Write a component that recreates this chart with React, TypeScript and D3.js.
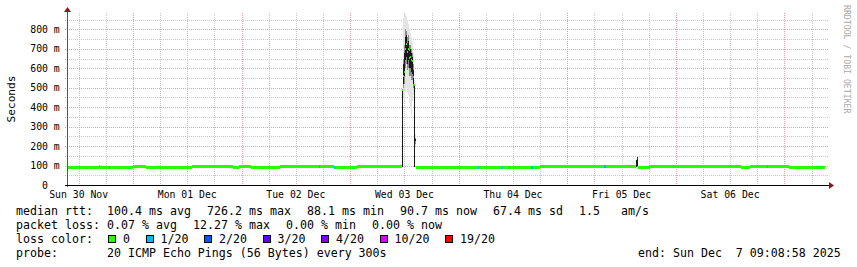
import React from 'react';
import * as d3 from 'd3';

const W = 857;
const H = 267;

const rangeStart = '2025-11-30T09:25';
const rangeEnd = '2025-12-07T09:25';

// median rtt segments (ms); null = no median drawn
const segStart = [
  '2025-11-30T09:25', '2025-11-30T16:30', '2025-11-30T16:45', '2025-12-01T00:00',
  '2025-12-01T02:52', '2025-12-01T13:01', '2025-12-01T22:05', '2025-12-01T23:24',
  '2025-12-02T02:03', '2025-12-02T08:27', '2025-12-02T20:23', '2025-12-03T01:27',
  '2025-12-03T11:23', '2025-12-03T14:29', '2025-12-03T15:35', '2025-12-04T17:52',
  '2025-12-05T15:17', '2025-12-05T15:43', '2025-12-05T18:22', '2025-12-06T14:28',
  '2025-12-06T16:27', '2025-12-07T01:04', '2025-12-07T09:00',
];
const segMedian = [
  89, 94, 89, 94,
  89, 94, 89, 94,
  89, 94, 89, 93,
  null, 92, 88, 94,
  null, 89, 94, 89,
  94, 89, null,
];

// single samples with 1/20 loss along the median
const lossEventTime = [
  '2025-11-30T18:42', '2025-12-02T17:11', '2025-12-02T20:23', '2025-12-04T04:10',
  '2025-12-04T09:28', '2025-12-04T11:01', '2025-12-04T16:05', '2025-12-05T08:13',
  '2025-12-06T20:12',
];
const lossEventCount = [1, 1, 1, 1, 1, 1, 1, 1, 1];

// detailed samples around the two spikes (ms)
const sampleTime = [
  '2025-12-03T11:23', '2025-12-03T11:36', '2025-12-03T11:50', '2025-12-03T12:03',
  '2025-12-03T12:16', '2025-12-03T12:29', '2025-12-03T12:43', '2025-12-03T12:56',
  '2025-12-03T13:09', '2025-12-03T13:23', '2025-12-03T13:36', '2025-12-03T13:49',
  '2025-12-03T14:03', '2025-12-03T14:16', '2025-12-05T15:17', '2025-12-05T15:30',
];
const sampleMedian = [490, 560, 583, 700, 726, 685, 700, 652, 660, 640, 637, 555, 514, 223, null, 140];
const sampleLo = [90, 450, 430, 480, 500, 480, 460, 420, 400, 360, 430, 460, 90, 200, 90, 92];
const sampleQ1 = [90, 500, 520, 600, 620, 590, 600, 560, 560, 540, 540, 500, 90, 210, 92, 95];
const sampleCoreLo = [90, 520, 560, 640, 660, 620, 640, 600, 600, 580, 570, 520, 90, 215, 92, 100];
const sampleCoreHi = [490, 620, 680, 760, 770, 730, 740, 690, 700, 680, 660, 590, 514, 235, 130, 140];
const sampleQ3 = [490, 650, 720, 800, 790, 760, 770, 720, 720, 700, 680, 620, 514, 240, 130, 140];
const sampleHi = [495, 860, 880, 878, 870, 850, 830, 800, 780, 760, 730, 680, 540, 260, 133, 145];
const sampleLoss = [0, 0, 0, 0, 0, 0, 0, 0, 0, 0, 0, 0, 0, 0, 0, 3];

const yMax = 884;
const yMajorTicks = [0, 100, 200, 300, 400, 500, 600, 700, 800];
const yMinorTicks = [50, 150, 250, 350, 450, 550, 650, 750, 850];

const lossThresholds = [0, 1, 2, 3, 4, 10, 19];
const lossLabels = ['0', '1/20', '2/20', '3/20', '4/20', '10/20', '19/20'];
const lossColors = ['#26ff00', '#00b8ff', '#0059ff', '#5e00ff', '#7e00ff', '#dd00ff', '#ff0000'];

const rttLabel = 'median rtt:';
const rttItems = ['100.4 ms avg', '726.2 ms max', '88.1 ms min', '90.7 ms now', '67.4 ms sd', '1.5', 'am/s'];
const lossLabel = 'packet loss:';
const lossItems = ['0.07 % avg', '12.27 % max', '0.00 % min', '0.00 % now'];
const lossColorLabel = 'loss color:';
const probeLabel = 'probe:';
const probeText = '20 ICMP Echo Pings (56 Bytes) every 300s';
const endText = 'end: Sun Dec  7 09:08:58 2025';
const yTitle = 'Seconds';
const watermark = 'RRDTOOL / TOBI OETIKER';

const parse = (s: string) => new Date(s);
const lossColor = (n: number) => {
  let c = lossColors[0];
  lossThresholds.forEach((t, i) => { if (n >= t) c = lossColors[i]; });
  return c;
};

export default function App() {
  const X0 = 67, X1 = 827, Y0 = 185, Y1 = 13;
  const x = d3.scaleTime().domain([parse(rangeStart), parse(rangeEnd)]).range([X0, X1]);
  const y = d3.scaleLinear().domain([0, yMax]).range([Y0, Y1]);
  const mono = 'DejaVu Sans Mono';
  const CW = 7.0;
  const FS = CW / 0.602;
  const sampleMs = 13.25 * 60 * 1000;
  const bandH = 3;

  const dayLines = d3.timeDay.range(x.domain()[0], x.domain()[1]);
  const sixHours = d3.timeHour.every(6)!.range(x.domain()[0], x.domain()[1]).filter(d => d.getHours() !== 0);
  const noonLabels = d3.timeHour.range(x.domain()[0], x.domain()[1]).filter(d => d.getHours() === 12);
  const fmt = d3.timeFormat('%a %d %b');

  const segs = segStart.slice(0, -1).map((s, i) => ({
    x0: x(parse(s)), x1: x(parse(segStart[i + 1])), med: segMedian[i],
  }));

  const findMedian = (t: Date) => {
    let m: number | null = null;
    segStart.forEach((s, i) => { if (parse(s) <= t) m = segMedian[i]; });
    return m;
  };

  const col2 = 16 + 13 * CW;
  const flow = (items: string[]) => {
    let cx = col2;
    return items.map(it => { const p = cx; cx += it.length * CW + 16; return p; });
  };
  const rttX = flow(rttItems);
  rttX[6] = 621;
  const lossX = flow(lossItems);
  const legendBoxes: { bx: number; tx: number }[] = [];
  {
    let bx = col2 + 1;
    lossLabels.forEach(l => {
      legendBoxes.push({ bx, tx: bx + 15 });
      bx = bx + 15 + l.length * CW + 15.5;
    });
  }

  const T = (props: any) => <text xmlSpace="preserve" style={{ whiteSpace: 'pre' }} {...props} />;

  return (
    <svg width={W} height={H} style={{ position: 'absolute', left: 0, top: 0, background: '#fff' }}
      fontFamily={mono}>
      <rect x={0} y={0} width={W} height={H} fill="#fff" />
      <g shapeRendering="crispEdges">
        {yMinorTicks.map(v => (
          <line key={'hm' + v} x1={X0 - 2} x2={X1 + 1} y1={Math.round(y(v)) + 0.5} y2={Math.round(y(v)) + 0.5}
            stroke="#c8c8c8" strokeDasharray="1,1" />
        ))}
        {sixHours.map(d => (
          <line key={'vm' + +d} x1={Math.round(x(d)) + 0.5} x2={Math.round(x(d)) + 0.5} y1={Y1} y2={Y0 + 2}
            stroke="#c8c8c8" strokeDasharray="1,1" />
        ))}
        {yMajorTicks.filter(v => v > 0).map(v => (
          <line key={'hM' + v} x1={X0 - 2} x2={X1 + 1} y1={Math.round(y(v)) + 0.5} y2={Math.round(y(v)) + 0.5}
            stroke="#e8a0a0" strokeDasharray="1,1" />
        ))}
        {dayLines.map(d => (
          <line key={'vM' + +d} x1={Math.round(x(d)) + 0.5} x2={Math.round(x(d)) + 0.5} y1={Y1} y2={Y0 + 2}
            stroke="#e8a0a0" strokeDasharray="1,1" />
        ))}
      </g>

      <g shapeRendering="crispEdges">
        {segs.filter(s => s.med !== null).map((s, i) => (
          <rect key={'s' + i} x={s.x0} width={s.x1 - s.x0} y={y(s.med as number) - bandH / 2} height={bandH}
            fill={lossColors[0]} />
        ))}
        {lossEventTime.map((t, i) => {
          const d = parse(t);
          const m = findMedian(d) ?? 89;
          return (
            <rect key={'le' + i} x={x(d)} width={Math.max(1.2, x(new Date(+d + 15 * 60000)) - x(d))}
              y={y(m) - bandH / 2} height={bandH} fill={lossColor(lossEventCount[i])} />
          );
        })}
      </g>

      <g shapeRendering="crispEdges">
        {sampleTime.map((t, i) => {
          const d = parse(t);
          const xa = x(d);
          const w = x(new Date(+d + sampleMs)) - xa;
          const med = sampleMedian[i];
          return (
            <g key={'sm' + i}>
              <rect x={xa} width={w} y={y(sampleHi[i])} height={y(sampleLo[i]) - y(sampleHi[i])} fill="#e4e4e4" />
              <rect x={xa} width={w} y={y(sampleQ3[i])} height={y(sampleQ1[i]) - y(sampleQ3[i])} fill="#8c8c8c" />
              <rect x={xa} width={w} y={y(sampleCoreHi[i])} height={Math.max(1, y(sampleCoreLo[i]) - y(sampleCoreHi[i]))} fill="#1a1a1a" />
              {med !== null && (
                <rect x={xa} width={w} y={y(med) - 1} height={2} fill={lossColor(sampleLoss[i])} />
              )}
            </g>
          );
        })}
      </g>

      <line x1={X0 + 0.5} x2={X0 + 0.5} y1={Y0 + 2} y2={9} stroke="#555" shapeRendering="crispEdges" />
      <path d={`M${X0 - 3},${12} L${X0 + 0.5},${7} L${X0 + 4},${12} Z`} fill="#8b1a1a" />
      <line x1={X0 - 2} x2={X1 + 2} y1={Y0 + 0.5} y2={Y0 + 0.5} stroke="#000" shapeRendering="crispEdges" />
      <path d={`M${X1 + 2},${Y0 - 3} L${X1 + 7},${Y0 + 0.5} L${X1 + 2},${Y0 + 4} Z`} fill="#8b1a1a" />

      {yMajorTicks.map(v => (
        <T key={'yl' + v} x={45} y={y(v) + 3.5} fontSize={9.8} textAnchor="middle" fill="#000">
          {v === 0 ? '0' : `${v} m`}
        </T>
      ))}
      {noonLabels.map(d => (
        <T key={'xl' + +d} x={x(d)} y={198} fontSize={9.8} textAnchor="middle" fill="#000">{fmt(d)}</T>
      ))}

      <T transform={`translate(15,${(Y0 + Y1) / 2}) rotate(-90)`} fontSize={11.2} textAnchor="middle" fill="#000">{yTitle}</T>
      <T transform="translate(844,5) rotate(90)" fontSize={8.2} fill="#aaa">{watermark}</T>

      <g fontSize={FS} fill="#000">
        <T x={16} y={215}>{rttLabel}</T>
        {rttItems.map((t, i) => <T key={'r' + i} x={rttX[i]} y={215}>{t}</T>)}
        <T x={16} y={229}>{lossLabel}</T>
        {lossItems.map((t, i) => <T key={'l' + i} x={lossX[i]} y={229}>{t}</T>)}
        <T x={16} y={243}>{lossColorLabel}</T>
        {lossLabels.map((l, i) => (
          <g key={'lc' + i}>
            <rect x={legendBoxes[i].bx + 0.5} y={235.5} width={7} height={7} fill={lossColors[i]} stroke="#000" shapeRendering="crispEdges" />
            <T x={legendBoxes[i].tx} y={243}>{l}</T>
          </g>
        ))}
        <T x={16} y={257}>{probeLabel}</T>
        <T x={col2} y={257}>{probeText}</T>
        <T x={638} y={257}>{endText}</T>
      </g>
    </svg>
  );
}
